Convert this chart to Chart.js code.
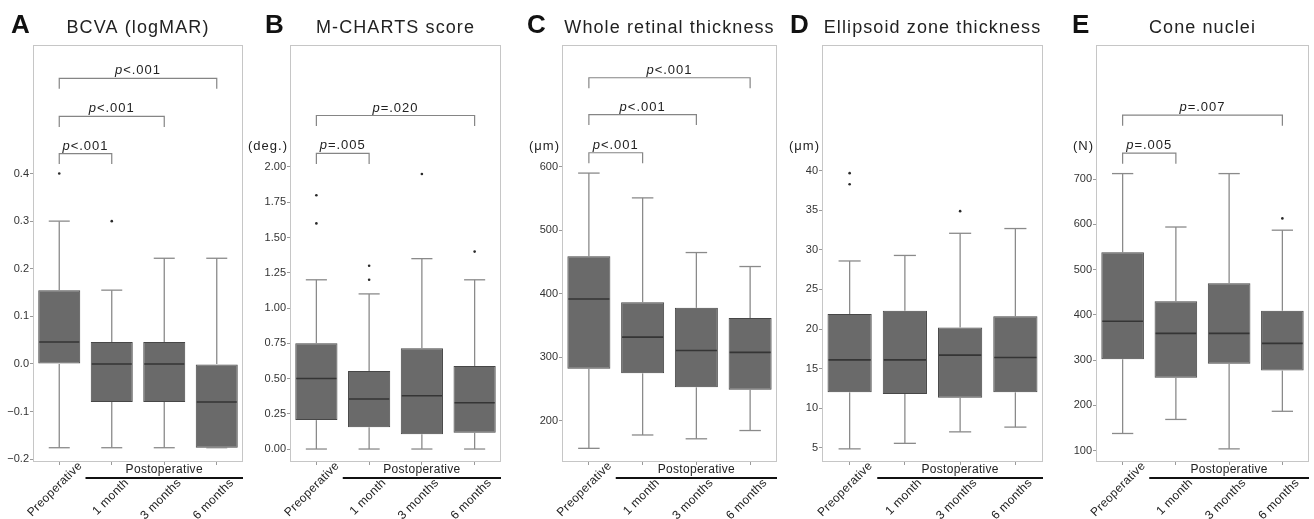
<!DOCTYPE html>
<html>
<head>
<meta charset="utf-8">
<title>Box plots</title>
<script src="https://cdn.jsdelivr.net/npm/chart.js@4.4.1/dist/chart.umd.min.js"></script>
<style>
  html, body { margin: 0; padding: 0; background: #fff; }
  #wrap { position: relative; width: 1314px; height: 519px; overflow: hidden; }
  #wrap canvas { position: absolute; top: 0; }
</style>
</head>
<body>
<div id="wrap">
  <canvas id="chartA" width="246" height="519" style="left:0px"></canvas>
  <canvas id="chartB" width="266" height="519" style="left:246px"></canvas>
  <canvas id="chartC" width="269" height="519" style="left:512px"></canvas>
  <canvas id="chartD" width="266" height="519" style="left:781px"></canvas>
  <canvas id="chartE" width="267" height="519" style="left:1047px"></canvas>
</div>
<script>
// 카테고리
const categories = ['Preoperative', '1 month', '3 months', '6 months'];
const groupLabel = 'Postoperative';

// A: BCVA (logMAR)
const bcvaLow = [-0.176, -0.176, -0.176, -0.176];
const bcvaQ1 = [0, -0.08, -0.08, -0.176];
const bcvaMed = [0.046, 0, 0, -0.08];
const bcvaQ3 = [0.155, 0.046, 0.046, 0];
const bcvaHigh = [0.3, 0.155, 0.222, 0.222];
const bcvaOut = [[0.4], [0.3], [], []];
const bcvaTicks = [-0.2, -0.1, 0, 0.1, 0.2, 0.3, 0.4];
const bcvaRange = [-0.206, 0.67];
const bcvaBrackets = [[0, 3, 0.600, '<.001'], [0, 2, 0.520, '<.001'], [0, 1, 0.442, '<.001']];

// B: M-CHARTS score
const mchartsLow = [0, 0, 0, 0];
const mchartsQ1 = [0.205, 0.154, 0.104, 0.116];
const mchartsMed = [0.5, 0.355, 0.378, 0.328];
const mchartsQ3 = [0.75, 0.553, 0.714, 0.589];
const mchartsHigh = [1.2, 1.1, 1.35, 1.2];
const mchartsOut = [[1.6, 1.8], [1.2, 1.3], [1.95], [1.4]];
const mchartsTicks = [0, 0.25, 0.5, 0.75, 1.0, 1.25, 1.5, 1.75, 2.0];
const mchartsRange = [-0.092, 2.865];
const mchartsBrackets = [[0, 3, 2.365, '=.020'], [0, 1, 2.096, '=.005']];

// C: Whole retinal thickness
const wrtLow = [157, 178, 172, 185];
const wrtQ1 = [282, 275, 253, 249];
const wrtMed = [392, 332, 311, 308];
const wrtQ3 = [459, 387, 378, 362];
const wrtHigh = [590, 551, 465, 443];
const wrtOut = [[], [], [], []];
const wrtTicks = [200, 300, 400, 500, 600];
const wrtRange = [135.5, 791.5];
const wrtBrackets = [[0, 3, 740, '<.001'], [0, 2, 682, '<.001'], [0, 1, 622, '<.001']];

// D: Ellipsoid zone thickness
const ezLow = [4.85, 5.55, 7.0, 7.6];
const ezQ1 = [12.0, 11.8, 11.3, 12.0];
const ezMed = [16.1, 16.1, 16.7, 16.4];
const ezQ3 = [21.9, 22.3, 20.2, 21.6];
const ezHigh = [28.6, 29.3, 32.1, 32.7];
const ezOut = [[38.3, 39.7], [], [34.9], []];
const ezTicks = [5, 10, 15, 20, 25, 30, 35, 40];
const ezRange = [3.19, 55.9];
const ezBrackets = [];

// E: Cone nuclei
const coneLow = [138, 169, 104, 187];
const coneQ1 = [302, 261, 292, 277];
const coneMed = [386, 359, 359, 337];
const coneQ3 = [538, 430, 470, 409];
const coneHigh = [712, 594, 712, 587];
const coneOut = [[], [], [], [613]];
const coneTicks = [100, 200, 300, 400, 500, 600, 700];
const coneRange = [75, 996];
const coneBrackets = [[0, 3, 841, '=.007'], [0, 1, 757, '=.005']];

const FONT = "'Liberation Sans', Arial, Helvetica, sans-serif";
Chart.defaults.font.family = FONT;
Chart.defaults.color = '#333';

const panels = [
  { id: 'chartA', letter: 'A', title: 'BCVA (logMAR)', unit: '', dec: 1,
    low: bcvaLow, q1: bcvaQ1, med: bcvaMed, q3: bcvaQ3, high: bcvaHigh, out: bcvaOut,
    ticks: bcvaTicks, range: bcvaRange, brackets: bcvaBrackets,
    axisW: 33, padR: 3, letterX: 11 },
  { id: 'chartB', letter: 'B', title: 'M-CHARTS score', unit: '(deg.)', dec: 2,
    low: mchartsLow, q1: mchartsQ1, med: mchartsMed, q3: mchartsQ3, high: mchartsHigh, out: mchartsOut,
    ticks: mchartsTicks, range: mchartsRange, brackets: mchartsBrackets,
    axisW: 44, padR: 11, letterX: 19 },
  { id: 'chartC', letter: 'C', title: 'Whole retinal thickness', unit: '(\u03bcm)', dec: 0,
    low: wrtLow, q1: wrtQ1, med: wrtMed, q3: wrtQ3, high: wrtHigh, out: wrtOut,
    ticks: wrtTicks, range: wrtRange, brackets: wrtBrackets,
    axisW: 50, padR: 4, letterX: 15 },
  { id: 'chartD', letter: 'D', title: 'Ellipsoid zone thickness', unit: '(\u03bcm)', dec: 0,
    low: ezLow, q1: ezQ1, med: ezMed, q3: ezQ3, high: ezHigh, out: ezOut,
    ticks: ezTicks, range: ezRange, brackets: ezBrackets,
    axisW: 41, padR: 4, letterX: 9 },
  { id: 'chartE', letter: 'E', title: 'Cone nuclei', unit: '(N)', dec: 0,
    low: coneLow, q1: coneQ1, med: coneMed, q3: coneQ3, high: coneHigh, out: coneOut,
    ticks: coneTicks, range: coneRange, brackets: coneBrackets,
    axisW: 49, padR: 5, letterX: 25 }
];

function fmt(v, dec) {
  const s = Math.abs(v).toFixed(dec);
  return (v < -1e-9 ? '\u2212' : '') + s;
}

function line(ctx, x1, y1, x2, y2) {
  ctx.beginPath();
  ctx.moveTo(x1, y1);
  ctx.lineTo(x2, y2);
  ctx.stroke();
}

/**
 * 박스플롯 부가 요소 (수염, 중앙값, 괄호, 텍스트)
 */
function makePanelPlugin(p) {
  return {
    id: 'panel' + p.letter,
    beforeDatasetsDraw(chart) {
      const { ctx, chartArea: a } = chart;
      ctx.save();
      ctx.strokeStyle = '#c6c6c6';
      ctx.lineWidth = 1;
      ctx.strokeRect(a.left + 0.5, a.top + 0.5, a.right - a.left - 1, a.bottom - a.top - 1);
      ctx.restore();
    },
    afterDatasetsDraw(chart) {
      const { ctx, scales: { x, y } } = chart;
      const bars = chart.getDatasetMeta(0).data;
      ctx.save();

      // 수염
      ctx.strokeStyle = '#8a8a8a';
      ctx.lineWidth = 1.3;
      p.low.forEach((lo, i) => {
        const cx = x.getPixelForValue(i);
        const half = bars[i].width / 4;
        const yLo = y.getPixelForValue(lo);
        const yHi = y.getPixelForValue(p.high[i]);
        line(ctx, cx, yLo, cx, y.getPixelForValue(p.q1[i]));
        line(ctx, cx, y.getPixelForValue(p.q3[i]), cx, yHi);
        line(ctx, cx - half, yLo, cx + half, yLo);
        line(ctx, cx - half, yHi, cx + half, yHi);
      });

      // 중앙값
      ctx.strokeStyle = '#353535';
      ctx.lineWidth = 1.6;
      p.med.forEach((m, i) => {
        const b = bars[i];
        const ym = y.getPixelForValue(m);
        line(ctx, b.x - b.width / 2 + 1, ym, b.x + b.width / 2 - 1, ym);
      });

      // 유의성 괄호
      p.brackets.forEach(([from, to, yv, label]) => {
        const x1 = x.getPixelForValue(from);
        const x2 = x.getPixelForValue(to);
        const yb = y.getPixelForValue(yv);
        ctx.strokeStyle = '#858585';
        ctx.lineWidth = 1.2;
        ctx.beginPath();
        ctx.moveTo(x1, yb + 10.5);
        ctx.lineTo(x1, yb);
        ctx.lineTo(x2, yb);
        ctx.lineTo(x2, yb + 10.5);
        ctx.stroke();

        ctx.fillStyle = '#222';
        ctx.textBaseline = 'alphabetic';
        ctx.textAlign = 'left';
        ctx.letterSpacing = '1px';
        ctx.font = `italic 13px ${FONT}`;
        const wp = ctx.measureText('p').width;
        ctx.font = `13px ${FONT}`;
        const wr = ctx.measureText(label).width;
        const sx = (x1 + x2) / 2 - (wp + wr) / 2;
        ctx.font = `italic 13px ${FONT}`;
        ctx.fillText('p', sx, yb - 4);
        ctx.font = `13px ${FONT}`;
        ctx.fillText(label, sx + wp, yb - 4);
      });
      ctx.restore();
    },
    afterDraw(chart) {
      const { ctx, chartArea: a, scales: { x } } = chart;
      ctx.save();

      // 패널 문자
      ctx.fillStyle = '#111';
      ctx.textBaseline = 'alphabetic';
      ctx.textAlign = 'left';
      ctx.font = `bold 26px ${FONT}`;
      ctx.fillText(p.letter, p.letterX, 33);

      // 제목
      ctx.fillStyle = '#222';
      ctx.font = `18px ${FONT}`;
      ctx.letterSpacing = '1.1px';
      ctx.textAlign = 'center';
      ctx.fillText(p.title, (a.left + a.right) / 2, 33);

      // 단위
      if (p.unit) {
        ctx.font = `13px ${FONT}`;
        ctx.letterSpacing = '1px';
        ctx.textAlign = 'right';
        ctx.textBaseline = 'middle';
        ctx.fillText(p.unit, a.left - 2, 146);
      }

      // x축 레이블 (45도 회전)
      ctx.fillStyle = '#222';
      ctx.font = `12px ${FONT}`;
      ctx.letterSpacing = '0.3px';
      ctx.textAlign = 'right';
      ctx.textBaseline = 'middle';
      categories.forEach((c, i) => {
        const px = x.getPixelForValue(i);
        const dx = i === 0 ? 21 : 15;
        const ay = i === 0 ? 464 : 481;
        ctx.save();
        ctx.translate(px + dx, ay);
        ctx.rotate(-Math.PI / 4);
        ctx.fillText(c, 0, 0);
        ctx.restore();
      });

      // Postoperative 그룹 표시
      ctx.textAlign = 'center';
      ctx.fillText(groupLabel, x.getPixelForValue(2), 470);
      ctx.strokeStyle = '#111';
      ctx.lineWidth = 2;
      line(ctx, x.getPixelForValue(0.5), 478, a.right, 478);

      ctx.restore();
    }
  };
}

function drawPanel(p) {
  const outliers = [];
  p.out.forEach((arr, i) => arr.forEach(v => outliers.push({ x: categories[i], y: v })));

  new Chart(document.getElementById(p.id), {
    type: 'bar',
    data: {
      labels: categories,
      datasets: [
        {
          type: 'bar',
          data: p.q1.map((v, i) => [v, p.q3[i]]),
          backgroundColor: '#6a6a6a',
          borderColor: '#474747',
          borderWidth: 1,
          borderSkipped: false,
          barPercentage: 0.8,
          categoryPercentage: 1
        },
        {
          type: 'scatter',
          data: outliers,
          pointRadius: 1.3,
          pointHoverRadius: 1.3,
          pointBackgroundColor: '#2a2a2a',
          pointBorderWidth: 0
        }
      ]
    },
    options: {
      responsive: false,
      animation: false,
      events: [],
      layout: { padding: { top: 45, right: p.padR, bottom: 0, left: 0 } },
      plugins: {
        legend: { display: false },
        tooltip: { enabled: false },
        title: { display: false }
      },
      scales: {
        x: {
          type: 'category',
          offset: true,
          border: { display: false },
          grid: { display: true, offset: false, drawOnChartArea: false, drawTicks: true, tickLength: 3, color: '#9a9a9a' },
          ticks: { display: false },
          afterFit(s) { s.height = 57; }
        },
        y: {
          min: p.range[0],
          max: p.range[1],
          border: { display: false },
          grid: { display: true, drawOnChartArea: false, drawTicks: true, tickLength: 3, color: '#9a9a9a' },
          ticks: {
            autoSkip: false,
            padding: 1,
            color: '#333',
            font: { size: 11 },
            callback: (v) => fmt(v, p.dec)
          },
          afterBuildTicks(s) { s.ticks = p.ticks.map(v => ({ value: v })); },
          afterFit(s) { s.width = p.axisW; }
        }
      }
    },
    plugins: [makePanelPlugin(p)]
  });
}

panels.forEach(drawPanel);
</script>
</body>
</html>
